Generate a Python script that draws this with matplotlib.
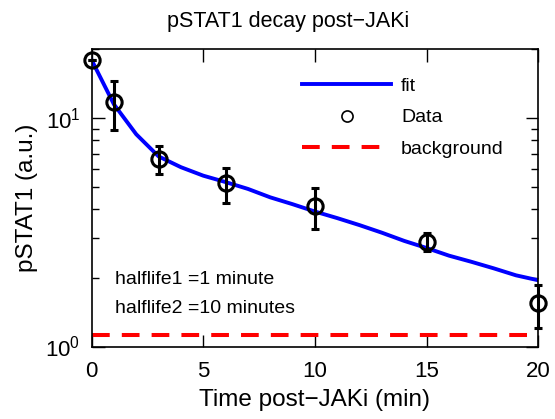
import numpy as np
import matplotlib
matplotlib.use('Agg')
import matplotlib.pyplot as plt
from matplotlib.lines import Line2D
from matplotlib.ticker import LogLocator, FixedLocator

plt.rcParams['font.family'] = ['Liberation Sans', 'DejaVu Sans']
plt.rcParams['mathtext.default'] = 'regular'

# measured pSTAT1 after JAK inhibitor
time_data = [0, 1, 3, 6, 10, 15, 20]
pstat_data = [18.0, 11.75, 6.6, 5.19, 4.13, 2.88, 1.55]
err_low = [18.0, 8.86, 5.71, 4.27, 3.27, 2.63, 1.21]
err_high = [18.0, 14.57, 7.56, 6.08, 4.97, 3.13, 1.86]

# fitted two-phase decay, read at integer minutes
time_fit = list(range(0, 21))
pstat_fit = [18.0, 11.5, 8.5, 6.8, 6.1, 5.6, 5.25, 4.9, 4.5, 4.2, 3.9,
             3.65, 3.4, 3.15, 2.9, 2.7, 2.5, 2.35, 2.2, 2.05, 1.95]

background = 1.123
xticks = [0, 5, 10, 15, 20]

yerr = [np.array(pstat_data) - np.array(err_low),
        np.array(err_high) - np.array(pstat_data)]

fig = plt.figure(figsize=(5.55, 4.19), dpi=100)
ax = fig.add_axes([0.165, 0.173, 0.805, 0.709])

ax.plot(time_fit, pstat_fit, color='#0000ff', lw=2.8, zorder=2)
ax.errorbar(time_data, pstat_data, yerr=yerr, fmt='o', ms=11, mfc='none',
            mec='black', mew=2.2, ecolor='black', elinewidth=2.2,
            capsize=3, capthick=2.2, zorder=3, clip_on=False)
ax.plot([0, 20], [background, background], color='#ff0000', lw=2.9,
        dashes=(4.4, 3.0), zorder=2)

ax.set_yscale('log')
ax.set_xlim(0, 20)
ax.set_ylim(1, 20)
ax.xaxis.set_major_locator(FixedLocator(xticks))
ax.yaxis.set_major_locator(LogLocator(base=10))
ax.yaxis.set_minor_locator(LogLocator(base=10, subs=np.arange(2, 10)))
ax.yaxis.set_minor_formatter(plt.NullFormatter())

ax.tick_params(which='both', direction='in', top=True, right=True,
               labelsize=16, width=1)
ax.tick_params(which='major', length=9, pad=8)
ax.tick_params(axis='x', which='major', pad=10.5)
ax.tick_params(which='minor', length=5)
for sp in ax.spines.values():
    sp.set_linewidth(1.2)

ax.set_xlabel('Time post\u2212JAKi (min)', fontsize=17.5, labelpad=5)
ax.set_ylabel('pSTAT1 (a.u.)', fontsize=17.5, labelpad=5)
ax.set_title('pSTAT1 decay post\u2212JAKi', fontsize=15.5, pad=16, x=0.44)

ax.text(1.05, 1.96, 'halflife1 =1 minute', fontsize=14, va='center')
ax.text(1.05, 1.46, 'halflife2 =10 minutes', fontsize=14, va='center')

handles = [Line2D([], [], color='#0000ff', lw=2.8),
           Line2D([], [], ls='none', marker='o', ms=8, mfc='none',
                  mec='black', mew=1.2),
           Line2D([], [], color='#ff0000', lw=2.9, dashes=(4.4, 3.0))]
ax.legend(handles, ['fit', 'Data', 'background'], loc='upper left',
          bbox_to_anchor=(0.471, 0.905), frameon=False, fontsize=14,
          handlelength=4.6, handletextpad=0.5, labelspacing=0.7,
          borderpad=0, borderaxespad=0)

fig.savefig('out.png', dpi=100)
